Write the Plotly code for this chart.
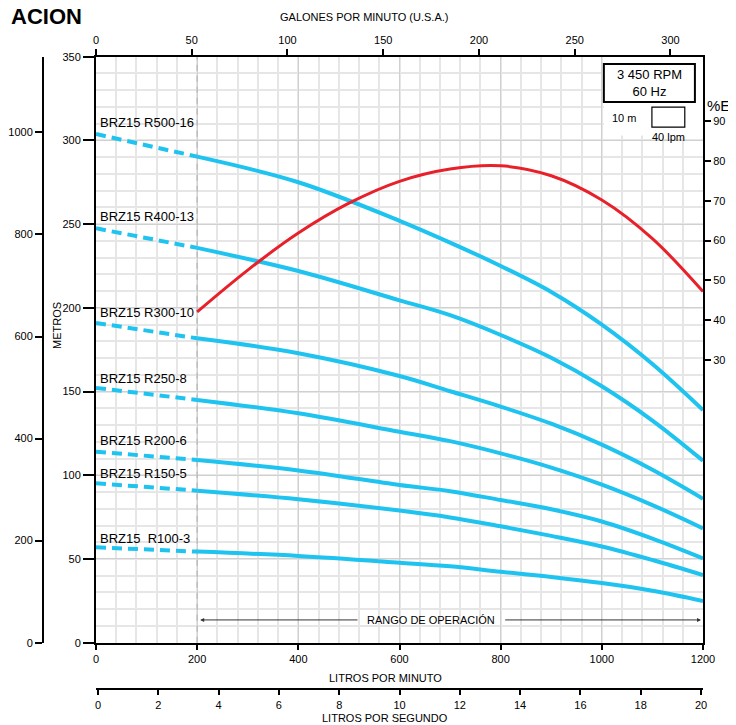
import plotly.graph_objects as go

# ---------------- data ----------------
flow_dashed = [0, 200]
flow_solid = [200, 400, 600, 700, 800, 900, 1000, 1100, 1200]

models = ["BRZ15 R500-16", "BRZ15 R400-13", "BRZ15 R300-10", "BRZ15 R250-8",
          "BRZ15 R200-6", "BRZ15 R150-5", "BRZ15  R100-3"]

head_shutoff = [303.8, 247.5, 191.0, 152.2, 114.1, 95.2, 57.0]

head_r500 = [290.3, 275.0, 252.0, 239.0, 225.0, 209.5, 190.0, 166.5, 139.0]
head_r400 = [235.8, 222.0, 204.5, 195.6, 183.8, 170.2, 153.2, 132.7, 108.7]
head_r300 = [181.8, 172.9, 159.3, 150.2, 141.0, 130.8, 118.3, 103.3, 86.0]
head_r250 = [145.0, 137.0, 126.0, 120.4, 113.1, 104.6, 94.4, 82.2, 68.3]
head_r200 = [109.1, 102.9, 94.2, 90.5, 85.2, 79.7, 72.4, 62.2, 50.4]
head_r150 = [90.8, 85.7, 78.9, 74.8, 69.5, 63.8, 57.5, 49.4, 40.4]
head_r100 = [54.4, 51.8, 47.8, 45.6, 42.4, 39.3, 35.6, 31.0, 24.9]
heads = [head_r500, head_r400, head_r300, head_r250, head_r200, head_r150, head_r100]

label_heads = [311.0, 254.3, 197.0, 158.0, 120.5, 100.8, 62.5]

eff_flow = [200, 300, 400, 500, 600, 700, 800, 900, 1000, 1100, 1200]
eff_pct = [42.1, 52.6, 61.9, 69.4, 74.9, 78.0, 78.8, 76.3, 70.2, 60.5, 47.2]

lpm_ticks = [0, 200, 400, 600, 800, 1000, 1200]
gpm_ticks = [0, 50, 100, 150, 200, 250, 300]
lps_ticks = [0, 2, 4, 6, 8, 10, 12, 14, 16, 18, 20]
m_ticks = [0, 50, 100, 150, 200, 250, 300, 350]
ft_ticks = [0, 200, 400, 600, 800, 1000]
eff_ticks = [30, 40, 50, 60, 70, 80, 90]

# ---------------- geometry helpers ----------------
W, H = 736, 725
OFF = 8  # page body margin of the browser
def px(x):
    return (x - OFF) / W
def py(y):
    return 1 - (y - OFF) / H

X0, X1 = 96, 703
Y0, Y1 = 56.7, 642.7

BLUE = "#1fc3ef"
RED = "#e8202a"
FONT = "Liberation Sans, Arial, sans-serif"

fig = go.Figure()

for h0, hs in zip(head_shutoff, heads):
    fig.add_trace(go.Scatter(x=flow_dashed, y=[h0, hs[0]], mode="lines",
                             line=dict(color=BLUE, width=4, dash="10px,6px"),
                             hoverinfo="skip", showlegend=False))
    fig.add_trace(go.Scatter(x=flow_solid, y=hs, mode="lines",
                             line=dict(color=BLUE, width=4, shape="spline", smoothing=1.0),
                             hoverinfo="skip", showlegend=False))

fig.add_trace(go.Scatter(x=eff_flow, y=eff_pct, mode="lines", xaxis="x", yaxis="y2",
                         line=dict(color=RED, width=3, shape="spline", smoothing=1.0),
                         hoverinfo="skip", showlegend=False))

# dummy traces so the extra axes are drawn
fig.add_trace(go.Scatter(x=[0], y=[0], xaxis="x2", yaxis="y", mode="markers",
                         marker=dict(opacity=0), hoverinfo="skip", showlegend=False))
fig.add_trace(go.Scatter(x=[0], y=[0], xaxis="x3", yaxis="y", mode="markers",
                         marker=dict(opacity=0), hoverinfo="skip", showlegend=False))
fig.add_trace(go.Scatter(x=[0], y=[0], xaxis="x", yaxis="y3", mode="markers",
                         marker=dict(opacity=0), hoverinfo="skip", showlegend=False))

xdom = [px(X0), px(X1)]
ydom = [py(Y1), py(Y0)]
tickfont = dict(family=FONT, size=11, color="black")

lps_pad = 2 / ((701 - 98) / 20)

common = dict(automargin=False, zeroline=False, tickfont=tickfont, tickcolor="black",
              tickwidth=1.5, showline=True, linecolor="black", linewidth=2, ticks="outside")

fig.update_layout(
    width=W, height=H, autosize=False,
    margin=dict(l=0, r=0, t=0, b=0, pad=0),
    paper_bgcolor="white", plot_bgcolor="white",
    font=dict(family=FONT, size=11, color="black"),
    xaxis=dict(domain=xdom, range=[0, 1200], tickvals=lpm_ticks, ticklen=5,
               showgrid=True, gridcolor="#d0d0d0", gridwidth=1.2, anchor="y",
               minor=dict(dtick=40, showgrid=True, gridcolor="#e6e6e6", gridwidth=1.5),
               **common),
    yaxis=dict(domain=ydom, range=[0, 350], tickvals=m_ticks, ticklen=11,
               showgrid=True, gridcolor="#d0d0d0", gridwidth=1.2, anchor="x",
               minor=dict(dtick=10, showgrid=True, gridcolor="#e6e6e6", gridwidth=1.5),
               **common),
    xaxis2=dict(overlaying="x", side="top", anchor="y", range=[0, 1200 / 3.78541],
                tickvals=gpm_ticks, ticklen=6, showgrid=False, **common),
    xaxis3=dict(overlaying="x", side="bottom", anchor="free", position=py(689.3),
                range=[-lps_pad, 20 + lps_pad], tickvals=lps_ticks, ticklen=5,
                showgrid=False, **common),
    yaxis2=dict(overlaying="y", side="right", anchor="x", range=[-41.0, 106.2],
                tickvals=eff_ticks, ticklen=6, showgrid=False, **common),
    yaxis3=dict(overlaying="y", side="left", anchor="free", position=px(43),
                range=[0, 350 / 0.3048], tickvals=ft_ticks, ticklen=7,
                showgrid=False, **common),
)

# shapes
fig.add_shape(type="rect", xref="x", yref="y", x0=1004, x1=1205, y0=303, y1=350,
              fillcolor="white", line=dict(width=0), layer="between")
fig.add_shape(type="line", xref="x", yref="y", x0=200, x1=200, y0=0, y1=350,
              line=dict(color="#bdbdbd", width=1.5, dash="6px,5px"), layer="between")
fig.add_shape(type="rect", xref="x", yref="y", x0=1004, x1=1184, y0=322.9, y1=345.6,
              fillcolor="white", line=dict(color="black", width=2), layer="above")
fig.add_shape(type="rect", xref="x", yref="y", x0=1099, x1=1164, y0=307.9, y1=319.9,
              fillcolor="white", line=dict(color="black", width=1.2), layer="above")

ann = []
for name, hy in zip(models, label_heads):
    ann.append(dict(x=4, y=hy, xref="x", yref="y", text=name, showarrow=False,
                    xanchor="left", yanchor="middle",
                    font=dict(family=FONT, size=13, color="black")))

def txt(xp, yp, text, size=11, xanchor="center", **kw):
    return dict(x=px(xp), y=py(yp), xref="paper", yref="paper", text=text,
                showarrow=False, xanchor=xanchor, yanchor="middle",
                font=dict(family=kw.pop("family", FONT), size=size, color="black"), **kw)

ann += [
    dict(x=1094, y=334.3, xref="x", yref="y", text="3 450 RPM<br>60 Hz", showarrow=False,
         xanchor="center", yanchor="middle",
         font=dict(family=FONT, size=13, color="black"), align="center"),
    dict(x=1044, y=313.4, xref="x", yref="y", text="10 m", showarrow=False,
         xanchor="center", yanchor="middle", font=dict(family=FONT, size=11, color="black")),
    dict(x=1131, y=302.3, xref="x", yref="y", text="40 lpm", showarrow=False,
         xanchor="center", yanchor="middle", font=dict(family=FONT, size=11, color="black")),
    dict(x=663, y=13.6, xref="x", yref="y", text="RANGO DE OPERACIÓN", showarrow=False,
         xanchor="center", yanchor="middle", font=dict(family=FONT, size=11, color="black")),
    dict(x=206, y=13.6, xref="x", yref="y", ax=520, ay=13.6, axref="x", ayref="y",
         text="", showarrow=True, arrowhead=2, arrowsize=0.8, arrowwidth=1,
         arrowcolor="#333"),
    dict(x=1196, y=13.6, xref="x", yref="y", ax=806, ay=13.6, axref="x", ayref="y",
         text="", showarrow=True, arrowhead=2, arrowsize=0.8, arrowwidth=1,
         arrowcolor="#333"),
    txt(364.5, 17, "GALONES POR MINUTO (U.S.A.)"),
    txt(385, 678, "LITROS POR MINUTO"),
    txt(385, 718, "LITROS POR SEGUNDO"),
    txt(57, 326, "METROS", textangle=-90),
    txt(705, 105, "%EF", size=15, xanchor="left"),
    txt(9, 16, "<b>ACION</b>", size=22, xanchor="left"),
]
fig.update_layout(annotations=ann)

fig.write_html("out.html")
